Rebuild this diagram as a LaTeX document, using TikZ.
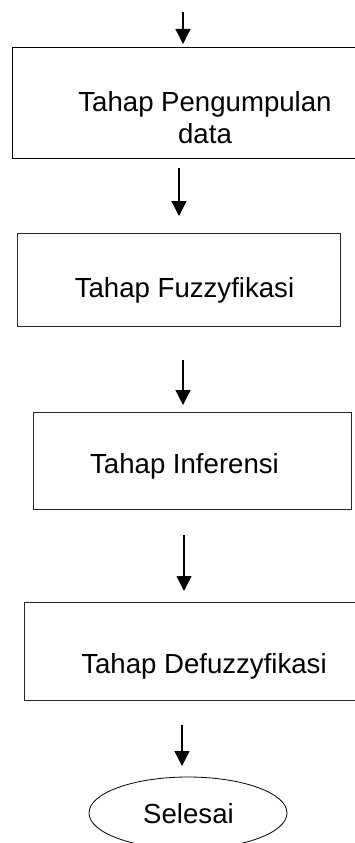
\documentclass[tikz,border=0pt]{standalone}
\usepackage{fontspec}
\setmainfont{Liberation Sans}
\usetikzlibrary{arrows.meta,shapes.geometric}

\tikzset{
  stage/.style={draw=black!85, line width=1pt, rectangle, inner sep=0pt, outer sep=0pt},
  endcap/.style={draw=black, line width=0.8pt, ellipse, inner sep=0pt, outer sep=0pt},
  caption/.style={anchor=base, inner sep=0pt, font=\fontsize{27.6}{32}\selectfont, align=center},
  flow/.style={line width=1.3pt, -{Triangle[width=15pt,length=15pt]}}
}

\begin{document}
\begin{tikzpicture}[x=1pt,y=-1pt]
  \useasboundingbox (0,0) rectangle (355,843);
  \clip (0,0) rectangle (355,843);

  % process boxes
  \node[stage, draw=black, minimum width=386pt, minimum height=110pt] (b1) at (205,103) {};
  \node[stage, minimum width=323pt, minimum height=93pt]  (b2) at (178.5,279.5) {};
  \node[stage, minimum width=318pt, minimum height=97pt]  (b3) at (192,460.5) {};
  \node[stage, minimum width=360pt, minimum height=98pt]  (b4) at (204,651) {};
  \node[endcap, minimum width=198pt, minimum height=72pt] (e5) at (188,813) {};

  % labels (base = baseline of the last line)
  \node[caption] (t1) at (205,143) {Tahap Pengumpulan\\data};
  \node[caption] (t2) at (184.5,297) {Tahap Fuzzyfikasi};
  \node[caption] (t3) at (184.5,473) {Tahap Inferensi};
  \node[caption] (t4) at (204,673) {Tahap Defuzzyfikasi};
  \node[caption] (t5) at (188.5,823) {Selesai};

  % arrow end points
  \coordinate (a0s) at (183,12);  \coordinate (a0e) at (183,44);
  \coordinate (a1s) at (179,168); \coordinate (a1e) at (179,216);
  \coordinate (a2s) at (183,360); \coordinate (a2e) at (183,405);
  \coordinate (a3s) at (184,535); \coordinate (a3e) at (184,591);
  \coordinate (a4s) at (182,725); \coordinate (a4e) at (182,766);

  % arrows
  \draw[flow] (a0s) -- (a0e);
  \draw[flow] (a1s) -- (a1e);
  \draw[flow] (a2s) -- (a2e);
  \draw[flow] (a3s) -- (a3e);
  \draw[flow] (a4s) -- (a4e);
\end{tikzpicture}
\end{document}
